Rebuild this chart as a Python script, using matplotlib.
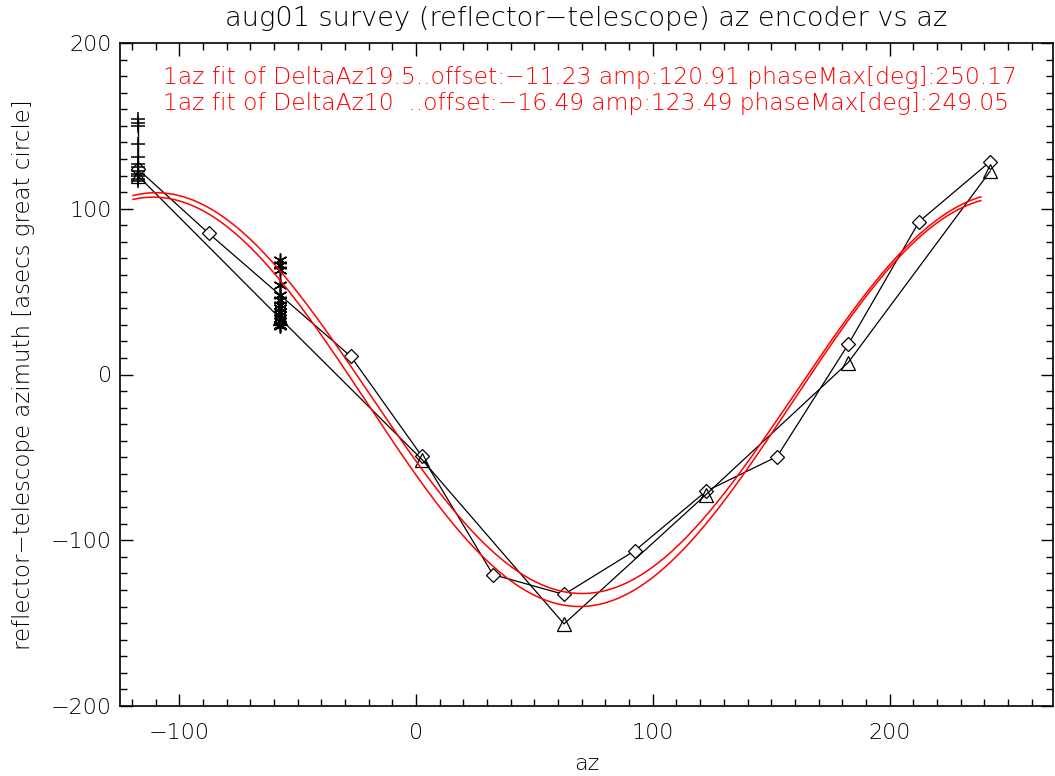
import numpy as np
import matplotlib
matplotlib.use("Agg")
from matplotlib import pyplot as plt
from matplotlib.ticker import MultipleLocator

plt.rcParams['font.family'] = ['DejaVu Sans']
plt.rcParams['font.weight'] = 'light'
plt.rcParams['axes.titleweight'] = 'light'
plt.rcParams['axes.labelweight'] = 'light'

# az encoder offsets, one point every 30 deg of az
az_diamond = [-117.5, -87.5, -27.5, 2.5, 32.5, 62.5, 92.5, 122.5, 152.5, 182.5, 212.5, 242.5]
off_diamond = [124, 85.1, 10.9, -49.3, -120.7, -132.7, -106.2, -70.4, -49.5, 18.1, 92.3, 128.5]

# every 60 deg of az
az_tri = [-117.5, -57.5, 2.5, 62.5, 122.5, 182.5, 242.5]
off_tri = [120, 34, -51.3, -150.5, -72.4, 7.2, 122.7]

# individual samples at the two crowded az positions
az_plus = -117.5
off_plus = [154, 152, 150, 139, 131, 127, 125, 123, 121, 119.5, 118, 116.5]
az_star = -57.5
off_star = [69, 66, 63, 54, 48, 45, 42, 40, 38, 36, 34, 32, 30, 29]

# 1az fits: offset + amp*cos(az - phaseMax)
fit_names = ['DeltaAz19.5', 'DeltaAz10  ']
fit_offset = [-11.23, -16.49]
fit_amp = [120.91, 123.49]
fit_phase = [250.17, 249.05]

fig = plt.figure(figsize=(10.55, 7.76), dpi=100)
ax = fig.add_axes([120/1055, 1 - 706/776, (1053-120)/1055, (706-43)/776])

ax.plot(az_diamond, off_diamond, '-', color='k', lw=0.9, marker='D', ms=7,
        mfc='white', mec='k', mew=0.9)
ax.plot(az_tri, off_tri, '-', color='k', lw=0.9, marker='^', ms=10,
        mfc='none', mec='k', mew=0.9)
ax.plot([az_plus] * len(off_plus), off_plus, '-', color='k', lw=1.0,
        marker='+', ms=10, mew=1.1)
ax.plot([az_star] * len(off_star), off_star, '-', color='k', lw=1.0,
        marker=(6, 2, 0), ms=10, mew=1.1)

az = np.linspace(-119.5, 238.5, 400)
for off, amp, ph in zip(fit_offset, fit_amp, fit_phase):
    ax.plot(az, off + amp * np.cos(np.radians(az - ph)), color='red', lw=1.1)

ax.set_xlim(-125, 269)
ax.set_ylim(-200, 200)
ax.xaxis.set_major_locator(MultipleLocator(100))
ax.xaxis.set_minor_locator(MultipleLocator(10))
ax.yaxis.set_major_locator(MultipleLocator(100))
ax.yaxis.set_minor_locator(MultipleLocator(10))
ax.tick_params(which='both', direction='in', top=True, right=True,
               labelsize=16, width=1.0, pad=6)
ax.tick_params(axis='x', which='both', pad=12)
ax.tick_params(which='major', length=9)
ax.tick_params(which='minor', length=5)
for s in ax.spines.values():
    s.set_linewidth(1.2)

ax.set_xlabel('az', fontsize=16, labelpad=8)
ax.set_ylabel('reflector\u2212telescope azimuth [asecs great circle]', fontsize=16.5, labelpad=11)
ax.set_title('aug01 survey (reflector\u2212telescope) az encoder vs az', fontsize=19.6, pad=12)

for i in range(len(fit_names)):
    txt = '1az fit of %s..offset:%.2f amp:%.2f phaseMax[deg]:%.2f' % (
        fit_names[i], fit_offset[i], fit_amp[i], fit_phase[i])
    txt = txt.replace('-', '\u2212')
    ax.text(0.046, 0.948 - i * 0.04, txt, transform=ax.transAxes, color='red',
            fontsize=16.8, va='center', ha='left')

fig.savefig('out.png', dpi=100)
